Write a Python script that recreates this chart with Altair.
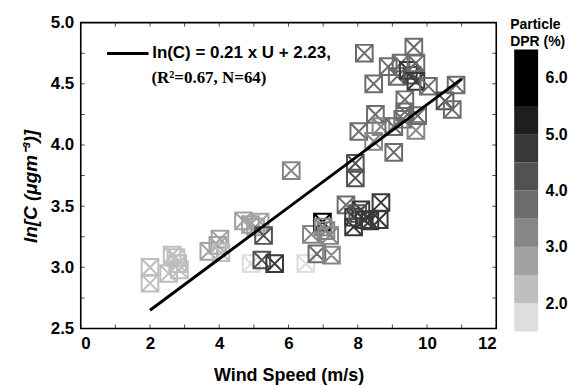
import altair as alt
import pandas as pd

# ---- data ----
wind = [2.00, 2.00, 2.64, 2.54, 2.80, 2.75, 2.85, 3.70, 4.02, 3.96, 4.05, 4.70, 4.90, 5.18, 5.05, 5.28,
        4.92, 5.23, 5.60, 6.08, 6.50, 6.66, 6.82, 6.98, 7.00, 7.08, 7.19, 7.24, 7.66, 7.88, 7.88, 8.09,
        8.00, 8.19, 8.35, 8.67, 8.62, 7.93, 7.93, 8.03, 8.19, 8.46, 8.51, 8.46, 8.67, 8.88, 9.04, 9.04,
        9.14, 9.25, 9.36, 9.36, 9.30, 9.46, 9.57, 9.62, 9.68, 9.68, 9.68, 9.73, 10.04, 10.52, 10.73, 10.84]
lnc = [3.00, 2.87, 3.10, 2.95, 3.03, 3.08, 2.98, 3.13, 3.23, 3.18, 3.12, 3.38, 3.35, 3.37, 3.33, 3.26,
       3.03, 3.06, 3.03, 3.79, 3.03, 3.27, 3.11, 3.37, 3.33, 3.30, 3.26, 3.10, 3.51, 3.41, 3.33, 3.47,
       3.44, 3.39, 3.38, 3.53, 3.39, 3.73, 3.85, 4.11, 4.75, 4.50, 4.25, 4.03, 4.15, 4.64, 4.15, 3.94,
       4.56, 4.67, 4.37, 4.27, 4.21, 4.61, 4.57, 4.80, 4.67, 4.52, 4.12, 4.24, 4.48, 4.36, 4.29, 4.49]
dpr = [2.3, 2.2, 2.3, 2.2, 2.4, 2.3, 2.2, 2.6, 2.7, 2.6, 2.4, 2.8, 2.7, 2.8, 2.6, 4.3,
       1.8, 4.4, 4.7, 3.1, 1.8, 3.3, 3.8, 5.8, 3.4, 3.3, 3.2, 3.1, 3.8, 4.6, 4.8, 4.5,
       4.3, 4.8, 4.7, 4.8, 4.9, 4.4, 4.3, 3.8, 3.6, 3.9, 3.6, 3.1, 3.4, 3.6, 3.8, 3.9,
       3.7, 3.6, 3.8, 3.9, 3.7, 4.6, 4.4, 3.6, 3.7, 4.6, 3.1, 3.5, 3.8, 4.1, 3.6, 3.9]

fit_label = "ln(C) = 0.21 x U + 2.23,"
fit_stats = "(R\u00b2=0.67, N=64)"
slope, intercept = 0.21, 2.23
fit_x = [2.0, 11.0]

x_ticks = list(range(0, 13))
x_labels = [0, 2, 4, 6, 8, 10, 12]
y_ticks = [2.5, 2.75, 3.0, 3.25, 3.5, 3.75, 4.0, 4.25, 4.5, 4.75, 5.0]
y_labels = [2.5, 3.0, 3.5, 4.0, 4.5, 5.0]

thresholds = [2.0, 2.5, 3.0, 3.5, 4.0, 4.5, 5.0, 5.5]
grays = ["#dedede", "#bebebe", "#a2a2a2", "#868686", "#6c6c6c", "#525252", "#383838", "#1e1e1e", "#000000"]
bar_lo = [1.5, 2.0, 2.5, 3.0, 3.5, 4.0, 4.5, 5.0, 5.5]
bar_hi = [2.0, 2.5, 3.0, 3.5, 4.0, 4.5, 5.0, 5.5, 6.5]
bar_labels = [2.0, 3.0, 4.0, 5.0, 6.0]

# ---- layout / style ----
W, H = 417, 307
FONT = "Liberation Sans"
SERIF = "Liberation Serif"
stats_pos = (2.04, 4.545)
box_x = "M-1,-1L1,-1L1,1L-1,1Z M-1,-1L1,1 M1,-1L-1,1"

pts = pd.DataFrame({"wind": wind, "lnc": lnc, "dpr": dpr})
fit = pd.DataFrame({"wind": fit_x, "lnc": [slope * v + intercept for v in fit_x], "label": [fit_label] * len(fit_x)})
stats = pd.DataFrame({"wind": [stats_pos[0]], "lnc": [stats_pos[1]], "t": [fit_stats]})

xs = alt.Scale(domain=[0, 12], nice=False, zero=False)
ys = alt.Scale(domain=[2.5, 5.0], nice=False, zero=False)

x_axis = alt.Axis(values=x_labels, format="d", ticks=False, domain=False, grid=False,
                  labelFont=FONT, labelFontSize=17, labelFontWeight="bold", labelColor="black",
                  labelPadding=7, title="Wind Speed (m/s)", titleFont=FONT, titleFontSize=18,
                  titleFontWeight="bold", titleColor="black", titlePadding=15)
y_axis = alt.Axis(values=y_labels, format=".1f", ticks=False, domain=False, grid=False,
                  labelFont=FONT, labelFontSize=17, labelFontWeight="bold", labelColor="black",
                  labelPadding=7, title="ln[C (\u03bcgm\u207b\u00b3)]", titleFont=FONT, titleFontSize=19,
                  titleFontWeight="bold", titleFontStyle="italic", titleColor="black", titlePadding=10,
                  titleY=164)

points = alt.Chart(pts).mark_point(shape=box_x, filled=False, size=280, strokeWidth=2, opacity=1).encode(
    x=alt.X("wind:Q", scale=xs, axis=x_axis),
    y=alt.Y("lnc:Q", scale=ys, axis=y_axis),
    color=alt.Color("dpr:Q", scale=alt.Scale(type="threshold", domain=thresholds, range=grays), legend=None),
)

line = alt.Chart(fit).mark_line(strokeWidth=3).encode(
    x=alt.X("wind:Q", scale=xs),
    y=alt.Y("lnc:Q", scale=ys),
    stroke=alt.Stroke("label:N", scale=alt.Scale(range=["black"]),
                      legend=alt.Legend(title=None, orient="none", legendX=24.7, legendY=8.5, padding=0,
                                        symbolType="stroke", symbolSize=1730, symbolStrokeWidth=3,
                                        labelFont=FONT, labelFontSize=17, labelFontWeight="bold",
                                        labelColor="black", labelOffset=2, labelLimit=0)),
)

stats_text = alt.Chart(stats).mark_text(font=SERIF, fontSize=17, fontWeight="bold", align="left",
                                        baseline="middle", color="black").encode(
    x=alt.X("wind:Q", scale=xs), y=alt.Y("lnc:Q", scale=ys), text="t:N")

xt = pd.DataFrame({"v": x_ticks})
yt = pd.DataFrame({"v": y_ticks})
tick_style = dict(size=8, thickness=1, color="black", clip=True)
bottom_ticks = alt.Chart(xt).mark_tick(orient="vertical", **tick_style).encode(
    x=alt.X("v:Q", scale=xs), y=alt.value(H))
top_ticks = alt.Chart(xt).mark_tick(orient="vertical", **tick_style).encode(
    x=alt.X("v:Q", scale=xs), y=alt.value(0))
left_ticks = alt.Chart(yt).mark_tick(orient="horizontal", **tick_style).encode(
    y=alt.Y("v:Q", scale=ys), x=alt.value(0))
right_ticks = alt.Chart(yt).mark_tick(orient="horizontal", **tick_style).encode(
    y=alt.Y("v:Q", scale=ys), x=alt.value(W))

main = alt.layer(points, line, stats_text, bottom_ticks, top_ticks, left_ticks, right_ticks).properties(
    width=W, height=H, view=alt.ViewBackground(stroke="black", strokeWidth=1.6))

bar = pd.DataFrame({"lo": bar_lo, "hi": bar_hi, "c": grays})
colorbar = alt.Chart(bar).mark_rect().encode(
    y=alt.Y("lo:Q", scale=alt.Scale(domain=[1.5, 6.977], nice=False, zero=False),
            axis=alt.Axis(orient="right", values=bar_labels, format=".1f", ticks=False, domain=False,
                          grid=False, labelFont=FONT, labelFontSize=16, labelFontWeight="bold",
                          labelColor="black", labelPadding=7, title=None)),
    y2="hi:Q",
    color=alt.Color("c:N", scale=None),
).properties(width=24, height=310, view=alt.ViewBackground(strokeWidth=0),
             title=alt.TitleParams(["Particle", "DPR (%)"], anchor="start", font=FONT, fontSize=14,
                                   fontWeight="bold", color="black", lineHeight=17, dx=-4, dy=30))

chart = alt.hconcat(main, colorbar, spacing=18, bounds="flush").properties(
    padding={"left": 12, "top": 4, "right": 0, "bottom": 0})

chart.save("out.html", embed_options={"renderer": "svg", "actions": False})
